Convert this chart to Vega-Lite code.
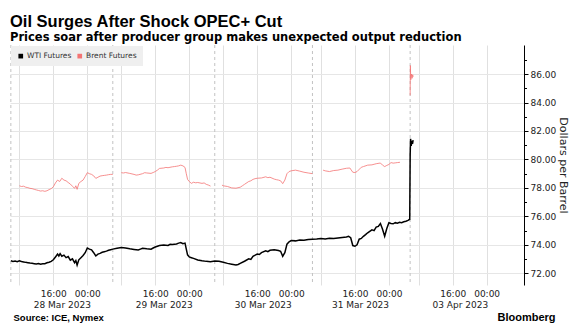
{
  "$schema": "https://vega.github.io/schema/vega-lite/v6.json",
  "width": 514,
  "height": 240,
  "autosize": {"type": "none"},
  "padding": {"left": 10, "top": 45, "right": 62, "bottom": 49},
  "background": "white",
  "config": {"view": {"stroke": null}, "font": "DejaVu Sans"},
  "title": {
    "text": "Oil Surges After Shock OPEC+ Cut",
    "subtitle": "Prices soar after producer group makes unexpected output reduction",
    "anchor": "start",
    "frame": "group",
    "font": "Liberation Sans",
    "fontSize": 16.5,
    "fontWeight": "bold",
    "color": "#000000",
    "subtitleFont": "DejaVu Sans",
    "subtitleFontSize": 11.5,
    "subtitleFontWeight": "bold",
    "subtitleColor": "#000000",
    "subtitlePadding": 1,
    "offset": 1.5
  },
  "datasets": {
    "sessions": [{"hour": 6}, {"hour": 30}, {"hour": 54}, {"hour": 77}, {"hour": 100}],
    "wti": [
      {"hour": 6, "price": 72.88}, {"hour": 6.5, "price": 72.84}, {"hour": 7, "price": 72.86}, {"hour": 7.5, "price": 72.82},
      {"hour": 8, "price": 72.88}, {"hour": 8.5, "price": 72.83}, {"hour": 9, "price": 72.8}, {"hour": 9.5, "price": 72.77},
      {"hour": 10, "price": 72.75}, {"hour": 10.5, "price": 72.72}, {"hour": 11, "price": 72.7}, {"hour": 11.5, "price": 72.68},
      {"hour": 12, "price": 72.66}, {"hour": 12.5, "price": 72.69}, {"hour": 13, "price": 72.64}, {"hour": 13.5, "price": 72.67},
      {"hour": 14, "price": 72.68}, {"hour": 14.5, "price": 72.74}, {"hour": 15, "price": 72.78}, {"hour": 15.5, "price": 72.84},
      {"hour": 16, "price": 72.95}, {"hour": 16.5, "price": 73.15}, {"hour": 17, "price": 73.35}, {"hour": 17.3, "price": 73.22},
      {"hour": 17.6, "price": 73.38}, {"hour": 18, "price": 73.2}, {"hour": 18.5, "price": 73.28}, {"hour": 19, "price": 73.1},
      {"hour": 19.5, "price": 73.18}, {"hour": 20, "price": 72.92}, {"hour": 20.5, "price": 73.02}, {"hour": 21, "price": 72.75},
      {"hour": 21.3, "price": 72.9}, {"hour": 21.6, "price": 72.58}, {"hour": 22, "price": 72.95}, {"hour": 22.5, "price": 73.1},
      {"hour": 23, "price": 73.25}, {"hour": 23.5, "price": 73.45}, {"hour": 24, "price": 73.78}, {"hour": 24.5, "price": 73.7},
      {"hour": 25, "price": 73.65}, {"hour": 25.5, "price": 73.45}, {"hour": 26, "price": 73.22}, {"hour": 26.5, "price": 73.35},
      {"hour": 27, "price": 73.4}, {"hour": 27.5, "price": 73.48}, {"hour": 28, "price": 73.52}, {"hour": 28.5, "price": 73.56},
      {"hour": 29, "price": 73.62}, {"hour": 29.5, "price": 73.66}, {"hour": 30, "price": 73.7}, {"hour": 31, "price": 73.76},
      {"hour": 32, "price": 73.82}, {"hour": 33, "price": 73.78}, {"hour": 34, "price": 73.72}, {"hour": 35, "price": 73.68},
      {"hour": 36, "price": 73.64}, {"hour": 36.5, "price": 73.7}, {"hour": 37, "price": 73.76}, {"hour": 38, "price": 73.72},
      {"hour": 39, "price": 73.7}, {"hour": 39.5, "price": 73.78}, {"hour": 40, "price": 73.85}, {"hour": 40.5, "price": 73.9},
      {"hour": 41, "price": 73.95}, {"hour": 42, "price": 73.99}, {"hour": 43, "price": 73.96}, {"hour": 43.5, "price": 74.04},
      {"hour": 44, "price": 74.02}, {"hour": 45, "price": 74.06}, {"hour": 45.5, "price": 74.12}, {"hour": 46, "price": 74.16},
      {"hour": 46.5, "price": 74.08}, {"hour": 47, "price": 74.12}, {"hour": 47.3, "price": 73.7}, {"hour": 47.6, "price": 73.3},
      {"hour": 48, "price": 73.15}, {"hour": 48.5, "price": 73.1}, {"hour": 49, "price": 73.05}, {"hour": 50, "price": 72.94},
      {"hour": 51, "price": 72.88}, {"hour": 52, "price": 72.84}, {"hour": 53, "price": 72.82}, {"hour": 54, "price": 72.86},
      {"hour": 55, "price": 72.84}, {"hour": 56, "price": 72.78}, {"hour": 57, "price": 72.7}, {"hour": 58, "price": 72.64},
      {"hour": 59, "price": 72.58}, {"hour": 59.5, "price": 72.62}, {"hour": 60, "price": 72.7}, {"hour": 61, "price": 72.85},
      {"hour": 62, "price": 73.02}, {"hour": 62.5, "price": 72.98}, {"hour": 63, "price": 73.2}, {"hour": 64, "price": 73.35},
      {"hour": 64.5, "price": 73.32}, {"hour": 65, "price": 73.45}, {"hour": 66, "price": 73.58}, {"hour": 66.5, "price": 73.52},
      {"hour": 67, "price": 73.62}, {"hour": 68, "price": 73.66}, {"hour": 69, "price": 73.6}, {"hour": 69.5, "price": 73.55},
      {"hour": 70, "price": 73.2}, {"hour": 70.5, "price": 73.45}, {"hour": 71, "price": 74.05}, {"hour": 71.5, "price": 74.22},
      {"hour": 72, "price": 74.3}, {"hour": 73, "price": 74.28}, {"hour": 74, "price": 74.34}, {"hour": 75, "price": 74.32},
      {"hour": 76, "price": 74.38}, {"hour": 77, "price": 74.4}, {"hour": 78, "price": 74.42}, {"hour": 79, "price": 74.45},
      {"hour": 80, "price": 74.42}, {"hour": 81, "price": 74.46}, {"hour": 82, "price": 74.44}, {"hour": 83, "price": 74.48},
      {"hour": 84, "price": 74.52}, {"hour": 85, "price": 74.55}, {"hour": 85.5, "price": 74.6}, {"hour": 86, "price": 74.5},
      {"hour": 86.5, "price": 73.95}, {"hour": 87, "price": 73.9}, {"hour": 87.5, "price": 74.0}, {"hour": 88, "price": 74.4},
      {"hour": 88.5, "price": 74.45}, {"hour": 89, "price": 74.6}, {"hour": 89.5, "price": 74.72}, {"hour": 90, "price": 74.85},
      {"hour": 91, "price": 75.05}, {"hour": 91.5, "price": 75.0}, {"hour": 92, "price": 75.25}, {"hour": 92.5, "price": 75.3},
      {"hour": 93, "price": 75.5}, {"hour": 93.5, "price": 75.1}, {"hour": 94, "price": 74.6}, {"hour": 94.5, "price": 75.15},
      {"hour": 95, "price": 75.55}, {"hour": 95.5, "price": 75.5}, {"hour": 96, "price": 75.48}, {"hour": 96.5, "price": 75.56},
      {"hour": 97, "price": 75.52}, {"hour": 97.5, "price": 75.58}, {"hour": 98, "price": 75.56}, {"hour": 98.5, "price": 75.62},
      {"hour": 99, "price": 75.66}, {"hour": 99.5, "price": 75.72}, {"hour": 99.9, "price": 75.8}, {"hour": 100, "price": 80.3},
      {"hour": 100.1, "price": 81.45}, {"hour": 100.25, "price": 80.95}, {"hour": 100.4, "price": 81.3}, {"hour": 100.55, "price": 81.1},
      {"hour": 100.7, "price": 81.35}
    ],
    "brent": [
      {"seg": 1, "hour": 8, "price": 78.15}, {"seg": 1, "hour": 8.5, "price": 78.1}, {"seg": 1, "hour": 9, "price": 78.12},
      {"seg": 1, "hour": 9.5, "price": 78.05}, {"seg": 1, "hour": 10, "price": 78.02}, {"seg": 1, "hour": 10.5, "price": 77.97},
      {"seg": 1, "hour": 11, "price": 77.95}, {"seg": 1, "hour": 11.5, "price": 77.9}, {"seg": 1, "hour": 12, "price": 77.86},
      {"seg": 1, "hour": 12.5, "price": 77.82}, {"seg": 1, "hour": 13, "price": 77.78}, {"seg": 1, "hour": 13.5, "price": 77.8},
      {"seg": 1, "hour": 14, "price": 77.76}, {"seg": 1, "hour": 14.5, "price": 77.8}, {"seg": 1, "hour": 15, "price": 77.88},
      {"seg": 1, "hour": 15.5, "price": 77.95}, {"seg": 1, "hour": 16, "price": 78.08}, {"seg": 1, "hour": 16.5, "price": 78.35},
      {"seg": 1, "hour": 17, "price": 78.55}, {"seg": 1, "hour": 17.5, "price": 78.45}, {"seg": 1, "hour": 18, "price": 78.68},
      {"seg": 1, "hour": 18.5, "price": 78.55}, {"seg": 1, "hour": 19, "price": 78.5}, {"seg": 1, "hour": 19.5, "price": 78.38},
      {"seg": 1, "hour": 20, "price": 78.27}, {"seg": 1, "hour": 20.5, "price": 78.12}, {"seg": 1, "hour": 21, "price": 77.97},
      {"seg": 1, "hour": 21.3, "price": 78.15}, {"seg": 1, "hour": 21.6, "price": 77.9}, {"seg": 1, "hour": 22, "price": 78.32},
      {"seg": 1, "hour": 22.5, "price": 78.45}, {"seg": 1, "hour": 23, "price": 78.55}, {"seg": 1, "hour": 23.5, "price": 78.8},
      {"seg": 1, "hour": 24, "price": 79.07}, {"seg": 1, "hour": 24.5, "price": 79.0}, {"seg": 1, "hour": 25, "price": 78.95},
      {"seg": 1, "hour": 25.5, "price": 78.85}, {"seg": 1, "hour": 26, "price": 78.67}, {"seg": 1, "hour": 26.5, "price": 78.75},
      {"seg": 1, "hour": 27, "price": 78.83}, {"seg": 1, "hour": 27.5, "price": 78.86}, {"seg": 1, "hour": 28, "price": 78.88},
      {"seg": 1, "hour": 28.5, "price": 78.9}, {"seg": 1, "hour": 29, "price": 78.93}, {"seg": 1, "hour": 29.5, "price": 78.95},
      {"seg": 1, "hour": 30, "price": 78.95},
      {"seg": 2, "hour": 32, "price": 79.07}, {"seg": 2, "hour": 32.5, "price": 79.05}, {"seg": 2, "hour": 33, "price": 79.08},
      {"seg": 2, "hour": 34, "price": 79.02}, {"seg": 2, "hour": 35, "price": 78.95}, {"seg": 2, "hour": 35.5, "price": 78.9},
      {"seg": 2, "hour": 36, "price": 78.92}, {"seg": 2, "hour": 37, "price": 79.0}, {"seg": 2, "hour": 37.5, "price": 79.07},
      {"seg": 2, "hour": 38, "price": 79.05}, {"seg": 2, "hour": 39, "price": 79.02}, {"seg": 2, "hour": 39.5, "price": 79.08},
      {"seg": 2, "hour": 40, "price": 79.15}, {"seg": 2, "hour": 40.5, "price": 79.25}, {"seg": 2, "hour": 41, "price": 79.37},
      {"seg": 2, "hour": 42, "price": 79.4}, {"seg": 2, "hour": 42.5, "price": 79.44}, {"seg": 2, "hour": 43, "price": 79.42},
      {"seg": 2, "hour": 44, "price": 79.48}, {"seg": 2, "hour": 44.5, "price": 79.5}, {"seg": 2, "hour": 45, "price": 79.52},
      {"seg": 2, "hour": 45.5, "price": 79.55}, {"seg": 2, "hour": 46, "price": 79.6}, {"seg": 2, "hour": 46.5, "price": 79.55},
      {"seg": 2, "hour": 47, "price": 79.44}, {"seg": 2, "hour": 47.3, "price": 79.0}, {"seg": 2, "hour": 47.6, "price": 78.6},
      {"seg": 2, "hour": 48, "price": 78.45}, {"seg": 2, "hour": 48.5, "price": 78.32}, {"seg": 2, "hour": 49, "price": 78.4},
      {"seg": 2, "hour": 49.5, "price": 78.36}, {"seg": 2, "hour": 50, "price": 78.38}, {"seg": 2, "hour": 51, "price": 78.32},
      {"seg": 2, "hour": 51.5, "price": 78.35}, {"seg": 2, "hour": 52, "price": 78.25}, {"seg": 2, "hour": 52.5, "price": 78.2},
      {"seg": 2, "hour": 53, "price": 78.13},
      {"seg": 3, "hour": 55.7, "price": 78.2}, {"seg": 3, "hour": 56, "price": 78.15}, {"seg": 3, "hour": 57, "price": 78.1},
      {"seg": 3, "hour": 58, "price": 78.0}, {"seg": 3, "hour": 59, "price": 77.98}, {"seg": 3, "hour": 60, "price": 78.05},
      {"seg": 3, "hour": 60.5, "price": 78.15}, {"seg": 3, "hour": 61, "price": 78.25}, {"seg": 3, "hour": 62, "price": 78.45},
      {"seg": 3, "hour": 62.5, "price": 78.5}, {"seg": 3, "hour": 63, "price": 78.6}, {"seg": 3, "hour": 63.5, "price": 78.65},
      {"seg": 3, "hour": 64, "price": 78.68}, {"seg": 3, "hour": 65, "price": 78.7}, {"seg": 3, "hour": 66, "price": 78.78},
      {"seg": 3, "hour": 66.5, "price": 78.72}, {"seg": 3, "hour": 67, "price": 78.75}, {"seg": 3, "hour": 68, "price": 78.62},
      {"seg": 3, "hour": 68.5, "price": 78.58}, {"seg": 3, "hour": 69, "price": 78.55}, {"seg": 3, "hour": 69.5, "price": 78.5},
      {"seg": 3, "hour": 70, "price": 78.3}, {"seg": 3, "hour": 70.5, "price": 78.55}, {"seg": 3, "hour": 71, "price": 79.0},
      {"seg": 3, "hour": 71.5, "price": 79.15}, {"seg": 3, "hour": 72, "price": 79.2}, {"seg": 3, "hour": 73, "price": 79.25},
      {"seg": 3, "hour": 74, "price": 79.18}, {"seg": 3, "hour": 75, "price": 79.1}, {"seg": 3, "hour": 76, "price": 79.05},
      {"seg": 3, "hour": 77, "price": 79.0},
      {"seg": 4, "hour": 79.5, "price": 79.25}, {"seg": 4, "hour": 80, "price": 79.2}, {"seg": 4, "hour": 81, "price": 79.15},
      {"seg": 4, "hour": 82, "price": 79.22}, {"seg": 4, "hour": 83, "price": 79.25}, {"seg": 4, "hour": 84, "price": 79.32},
      {"seg": 4, "hour": 85, "price": 79.38}, {"seg": 4, "hour": 85.8, "price": 79.4}, {"seg": 4, "hour": 86.5, "price": 79.1},
      {"seg": 4, "hour": 87, "price": 79.08}, {"seg": 4, "hour": 87.5, "price": 79.15}, {"seg": 4, "hour": 88.5, "price": 79.45},
      {"seg": 4, "hour": 89, "price": 79.5}, {"seg": 4, "hour": 90, "price": 79.6}, {"seg": 4, "hour": 91, "price": 79.62},
      {"seg": 4, "hour": 91.5, "price": 79.66}, {"seg": 4, "hour": 92, "price": 79.7}, {"seg": 4, "hour": 93, "price": 79.75},
      {"seg": 4, "hour": 93.5, "price": 79.6}, {"seg": 4, "hour": 94, "price": 79.5}, {"seg": 4, "hour": 94.5, "price": 79.58},
      {"seg": 4, "hour": 95, "price": 79.65}, {"seg": 4, "hour": 95.5, "price": 79.78}, {"seg": 4, "hour": 96, "price": 79.74},
      {"seg": 4, "hour": 96.5, "price": 79.76}, {"seg": 4, "hour": 97, "price": 79.78}, {"seg": 4, "hour": 97.6, "price": 79.8},
      {"seg": 5, "hour": 100, "price": 84.5}, {"seg": 5, "hour": 100.05, "price": 86.6}, {"seg": 5, "hour": 100.15, "price": 85.6},
      {"seg": 5, "hour": 100.3, "price": 86.0}, {"seg": 5, "hour": 100.45, "price": 85.7}, {"seg": 5, "hour": 100.6, "price": 85.95},
      {"seg": 5, "hour": 100.7, "price": 85.8}
    ]
  },
  "layer": [
    {
      "data": {"name": "sessions"},
      "mark": {"type": "rule", "strokeDash": [3, 3], "color": "#c2c2c2", "strokeWidth": 1},
      "encoding": {
        "x": {
          "field": "hour", "type": "quantitative",
          "scale": {"domain": [5.8, 126.8], "nice": false, "zero": false},
          "axis": {
            "orient": "bottom", "labels": false, "ticks": false, "domain": false, "grid": false,
            "title": "Bloomberg", "titleX": 545, "titleY": 35, "titleAlign": "right", "titleAnchor": null,
            "titleBaseline": "alphabetic", "titleFont": "Liberation Sans", "titleFontSize": 11,
            "titleFontWeight": "bold", "titleColor": "#000000"
          }
        }
      }
    },
    {
      "data": {"name": "brent"},
      "mark": {"type": "line", "strokeWidth": 0.8, "interpolate": "linear"},
      "encoding": {
        "x": {
          "field": "hour", "type": "quantitative",
          "scale": {"domain": [5.8, 126.8], "nice": false, "zero": false},
          "axis": {
            "orient": "bottom", "values": [18, 42, 65.3, 88.2, 111.7],
            "labelExpr": "datum.value < 30 ? '28 Mar 2023' : datum.value < 50 ? '29 Mar 2023' : datum.value < 75 ? '30 Mar 2023' : datum.value < 100 ? '31 Mar 2023' : '03 Apr 2023'",
            "grid": false, "ticks": false, "domain": false, "labelPadding": 15,
            "labelFont": "DejaVu Sans", "labelFontSize": 9, "labelColor": "#222222",
            "labelOverlap": false, "labelFlush": false,
            "title": "Source: ICE, Nymex", "titleAnchor": "start", "titleAlign": "left", "titleX": 3, "titleY": 35,
            "titleBaseline": "alphabetic", "titleFont": "Liberation Sans", "titleFontSize": 9.5,
            "titleFontWeight": "bold", "titleColor": "#000000"
          }
        },
        "y": {
          "field": "price", "type": "quantitative",
          "scale": {"domain": [71.18, 88.04], "nice": false, "zero": false},
          "axis": {
            "orient": "right", "values": [73, 75, 77, 79, 81, 83, 85, 87], "labels": false, "grid": false,
            "domain": false, "ticks": true, "tickSize": 2.5, "tickColor": "#000000", "title": null
          }
        },
        "color": {
          "datum": "Brent Futures",
          "scale": {"domain": ["WTI Futures", "Brent Futures"], "range": ["#000000", "#f47474"]},
          "legend": {
            "title": null, "orient": "top-left", "direction": "horizontal", "offset": 1, "padding": 6,
            "fillColor": "#efefef", "symbolType": "square", "symbolSize": 22, "symbolStrokeWidth": 0,
            "labelFont": "DejaVu Sans", "labelFontSize": 7.5, "labelColor": "#333333", "labelOffset": 2.5,
            "columnPadding": 4,
            "encode": {"symbols": {"update": {"fill": {"scale": "color", "field": "value"}, "stroke": {"value": "transparent"}}}}
          }
        },
        "detail": {"field": "seg", "type": "nominal"}
      }
    },
    {
      "data": {"name": "wti"},
      "mark": {"type": "line", "strokeWidth": 1.5, "interpolate": "linear"},
      "encoding": {
        "x": {
          "field": "hour", "type": "quantitative",
          "scale": {"domain": [5.8, 126.8], "nice": false, "zero": false},
          "axis": {
            "orient": "bottom", "values": [8, 16, 24, 32, 40, 48, 56, 64, 72, 79, 87, 95, 102, 110, 118],
            "labelExpr": "indexof([16, 40, 64, 87, 110], datum.value) >= 0 ? '16:00' : (indexof([24, 48, 72, 95, 118], datum.value) >= 0 ? '00:00' : '')",
            "grid": true, "gridColor": "#e0e0e0", "gridWidth": 1, "ticks": false, "domain": false,
            "labelPadding": 4, "labelFont": "DejaVu Sans", "labelFontSize": 9, "labelColor": "#222222",
            "labelOverlap": false, "labelFlush": false, "title": null
          }
        },
        "y": {
          "field": "price", "type": "quantitative",
          "scale": {"domain": [71.18, 88.04], "nice": false, "zero": false},
          "axis": {
            "orient": "right", "values": [72, 74, 76, 78, 80, 82, 84, 86], "format": ".2f",
            "grid": true, "gridColor": "#e6e6e6", "domain": true, "domainColor": "#000000", "domainWidth": 1,
            "tickColor": "#000000", "tickSize": 4, "labelPadding": 2, "labelFont": "DejaVu Sans",
            "labelFontSize": 9, "labelColor": "#222222", "title": "Dollars per Barrel",
            "titleFont": "DejaVu Sans", "titleFontSize": 11, "titleFontWeight": "normal",
            "titleColor": "#222222", "titlePadding": 2
          }
        },
        "color": {
          "datum": "WTI Futures",
          "scale": {"domain": ["WTI Futures", "Brent Futures"], "range": ["#000000", "#f47474"]},
          "legend": {
            "title": null, "orient": "top-left", "direction": "horizontal", "offset": 1, "padding": 6,
            "fillColor": "#efefef", "symbolType": "square", "symbolSize": 22, "symbolStrokeWidth": 0,
            "labelFont": "DejaVu Sans", "labelFontSize": 7.5, "labelColor": "#333333", "labelOffset": 2.5,
            "columnPadding": 4,
            "encode": {"symbols": {"update": {"fill": {"scale": "color", "field": "value"}, "stroke": {"value": "transparent"}}}}
          }
        }
      }
    }
  ],
  "resolve": {"axis": {"x": "independent", "y": "independent"}}
}
